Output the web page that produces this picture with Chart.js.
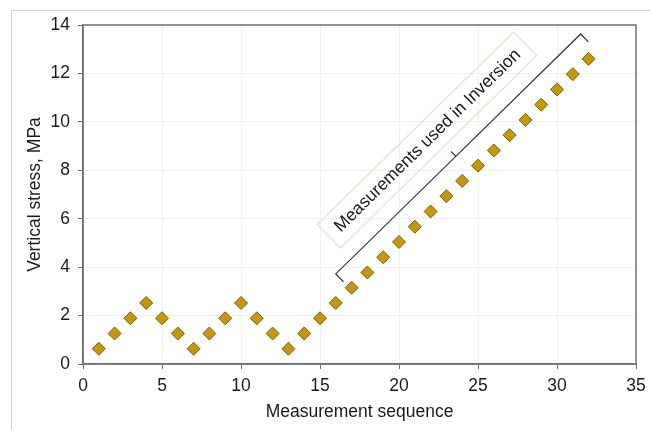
<!DOCTYPE html>
<html>
<head>
<meta charset="utf-8">
<script src="https://cdn.jsdelivr.net/npm/chart.js@4/dist/chart.umd.min.js"></script>
<style>
  html, body { margin: 0; padding: 0; background: #fff; }
  #wrap { width: 650px; height: 430px; position: relative; }
</style>
</head>
<body>
<div id="wrap"><canvas id="chart" width="650" height="430"></canvas></div>
<script>
// measurement number and vertical stress (MPa)
const sequence = [1, 2, 3, 4, 5, 6, 7, 8, 9, 10, 11, 12, 13, 14, 15, 16,
  17, 18, 19, 20, 21, 22, 23, 24, 25, 26, 27, 28, 29, 30, 31, 32];
const stress = [0.63, 1.26, 1.89, 2.52, 1.89, 1.26, 0.63, 1.26, 1.89, 2.52, 1.89, 1.26, 0.63, 1.26, 1.89, 2.52,
  3.15, 3.78, 4.41, 5.04, 5.67, 6.30, 6.93, 7.56, 8.19, 8.82, 9.45, 10.08, 10.71, 11.34, 11.97, 12.6];
const xTicks = [0, 5, 10, 15, 20, 25, 30, 35];
const yTicks = [0, 2, 4, 6, 8, 10, 12, 14];

// bracket over the inversion points, in data units
const braceFrom = { x: 16.0, y: 3.72 };
const braceTo = { x: 31.5, y: 13.63 };
const braceLabel = 'Measurements used in Inversion';
const labelAt = { x: 21.77, y: 9.25 };

const FONT = '"Liberation Sans", Arial, sans-serif';

const frame = {
  id: 'frame',
  beforeDraw(chart) {
    const ctx = chart.ctx;
    ctx.save();
    ctx.strokeStyle = '#d4d4d4';
    ctx.lineWidth = 1;
    ctx.beginPath();
    ctx.moveTo(11.5, 430);
    ctx.lineTo(11.5, 10.5);
    ctx.lineTo(650, 10.5);
    ctx.stroke();
    ctx.restore();
  },
  afterDatasetsDraw(chart) {
    const { ctx, chartArea: a, scales } = chart;
    ctx.save();
    // box round the plot
    ctx.strokeStyle = '#707070';
    ctx.lineWidth = 1.5;
    ctx.strokeRect(a.left, a.top, a.right - a.left, a.bottom - a.top);

    // bracket
    const x0 = scales.x.getPixelForValue(braceFrom.x), y0 = scales.y.getPixelForValue(braceFrom.y);
    const x1 = scales.x.getPixelForValue(braceTo.x), y1 = scales.y.getPixelForValue(braceTo.y);
    const len = Math.hypot(x1 - x0, y1 - y0);
    const ux = (x1 - x0) / len, uy = (y1 - y0) / len;
    const nx = -uy, ny = ux; // points down-right, toward the data
    const mx = x0 + (x1 - x0) * 0.49, my = y0 + (y1 - y0) * 0.49;
    ctx.strokeStyle = '#333';
    ctx.lineWidth = 1.2;
    ctx.beginPath();
    ctx.moveTo(x0 + nx * 11, y0 + ny * 11);
    ctx.lineTo(x0, y0);
    ctx.lineTo(mx, my);
    ctx.lineTo(mx - nx * 7, my - ny * 7);
    ctx.moveTo(mx, my);
    ctx.lineTo(x1, y1);
    ctx.lineTo(x1 + nx * 11, y1 + ny * 11);
    ctx.stroke();

    // rotated label in a pale green box
    const cx = scales.x.getPixelForValue(labelAt.x), cy = scales.y.getPixelForValue(labelAt.y);
    ctx.translate(cx, cy);
    ctx.rotate(Math.atan2(y1 - y0, x1 - x0));
    ctx.font = '17.5px ' + FONT;
    const w = ctx.measureText(braceLabel).width;
    ctx.strokeStyle = '#d3e7c4';
    ctx.lineWidth = 1.2;
    ctx.strokeRect(-w / 2 - 11, -16.5, w + 22, 33);
    ctx.fillStyle = '#1a1a1a';
    ctx.textAlign = 'center';
    ctx.textBaseline = 'middle';
    ctx.fillText(braceLabel, 0, 1);
    ctx.restore();
  }
};

new Chart(document.getElementById('chart'), {
  type: 'scatter',
  data: {
    datasets: [{
      data: sequence.map((s, i) => ({ x: s, y: stress[i] })),
      pointStyle: 'rectRot',
      pointRadius: 6.5,
      backgroundColor: '#c8960c',
      borderColor: '#7d5e06',
      borderWidth: 1
    }]
  },
  options: {
    responsive: false,
    animation: false,
    layout: { padding: { left: 20, right: 14, top: 25, bottom: 0 } },
    plugins: { legend: { display: false }, tooltip: { enabled: false } },
    scales: {
      x: {
        type: 'linear',
        min: 0,
        max: 35,
        afterBuildTicks: s => { s.ticks = xTicks.map(v => ({ value: v })); },
        afterFit: s => { s.height = 66; s.paddingLeft = 0; s.paddingRight = 0; },
        grid: { color: '#f0f0f0', tickColor: '#707070', tickLength: 5, drawTicks: true },
        border: { color: '#707070', width: 1.5 },
        ticks: { color: '#1a1a1a', font: { family: FONT, size: 17.5 }, padding: 7 },
        title: { display: true, text: 'Measurement sequence', color: '#1a1a1a',
          font: { family: FONT, size: 17.5 }, padding: { top: 0, bottom: 7 } }
      },
      y: {
        min: 0,
        max: 14,
        afterBuildTicks: s => { s.ticks = yTicks.map(v => ({ value: v })); },
        afterFit: s => { s.width = 63; s.paddingTop = 0; s.paddingBottom = 0; },
        grid: { color: '#f0f0f0', tickColor: '#707070', tickLength: 5 },
        border: { color: '#707070', width: 1.5 },
        ticks: { color: '#1a1a1a', font: { family: FONT, size: 17.5 }, padding: 8 },
        title: { display: true, text: 'Vertical stress, MPa', color: '#1a1a1a',
          font: { family: FONT, size: 17.5 }, padding: { top: 5, bottom: 0 } }
      }
    }
  },
  plugins: [frame]
});
</script>
</body>
</html>
